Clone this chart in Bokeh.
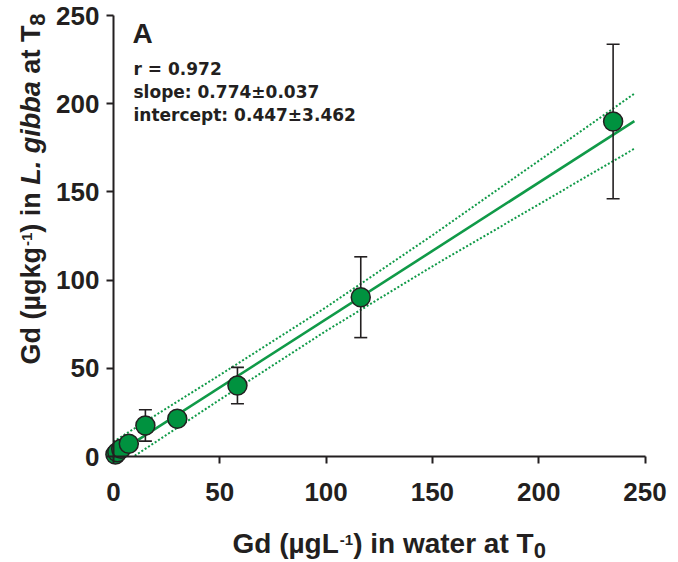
import math
from bokeh.plotting import figure
from bokeh.models import Range1d, LinearAxis, FixedTicker, Label
from bokeh.embed import file_html
from bokeh.resources import INLINE

# Gd in water at T0 (ug/L) vs Gd accumulated in L. gibba at T8 (ug/kg)
gd_water = [0.9, 1.8, 3.6, 7.2, 15.0, 30.0, 58.3, 116.3, 235.0]
gd_plant = [1.1, 2.4, 4.4, 7.2, 17.6, 21.4, 40.2, 90.3, 189.9]
gd_plant_sd = [0.4, 0.6, 1.0, 2.0, 8.9, 3.0, 10.3, 22.9, 43.8]

# linear regression summary
fit_r = 0.972
fit_slope = 0.774
fit_slope_se = 0.037
fit_intercept = 0.447
fit_intercept_se = 3.462
fit_x = [0, 245]

# 95% confidence band of the fit
band_hi_x = [0, 10, 50, 100, 150, 200, 245]
band_hi = [8.4, 16.0, 46.2, 84.6, 125.4, 167.6, 205.7]
band_lo_x = [10, 50, 100, 150, 200, 245]
band_lo = [0.4, 32.2, 71.2, 107.8, 142.9, 174.5]

x_ticks = [0, 50, 100, 150, 200, 250]
y_ticks = [0, 50, 100, 150, 200, 250]

GREEN = "#00923f"
LINE_GREEN = "#109a48"
INK = "#231f20"
SANS = "Liberation Sans"

# the frame fills the whole canvas; axes sit at the data origin
W, H = 678, 562
X0_PX, KX = 113.0, 2.126
Y0_PX, KY = 456.0, 1.764
XS, XE = -X0_PX / KX, (W - X0_PX) / KX
YS, YE = (Y0_PX - H) / KY, Y0_PX / KY

# labels anchored on the alphabetic baseline land this far (in em) below it
BASE_FIX = 0.35


def px2x(px):
    return (px - X0_PX) / KX


def px2y(py):
    return (Y0_PX - py) / KY


p = figure(width=W, height=H, x_range=Range1d(XS, XE), y_range=Range1d(YS, YE),
           output_backend="svg", toolbar_location=None,
           x_axis_location=None, y_axis_location=None,
           min_border=0)
p.outline_line_color = None
p.grid.visible = False
p.background_fill_color = "white"
p.border_fill_color = "white"


def style_axis(ax, standoff):
    ax.axis_line_color = INK
    ax.axis_line_width = 2
    ax.major_tick_line_color = INK
    ax.major_tick_line_width = 2
    ax.major_tick_out = 7
    ax.major_tick_in = 0
    ax.minor_tick_line_color = None
    ax.major_label_text_font = SANS
    ax.major_label_text_font_style = "bold"
    ax.major_label_text_font_size = "26px"
    ax.major_label_text_color = INK
    ax.major_label_standoff = standoff


xaxis = LinearAxis(fixed_location=0, bounds=(0, 250), ticker=FixedTicker(ticks=x_ticks))
style_axis(xaxis, 19)
p.add_layout(xaxis, "below")

yaxis = LinearAxis(fixed_location=0, bounds=(0, 250), ticker=FixedTicker(ticks=y_ticks))
style_axis(yaxis, 7)
p.add_layout(yaxis, "left")

# confidence band and fitted line
p.line(band_hi_x, band_hi, line_color=LINE_GREEN, line_width=2, line_dash="2 2")
p.line(band_lo_x, band_lo, line_color=LINE_GREEN, line_width=2, line_dash="2 2")
fit_y = [fit_slope * v + fit_intercept for v in fit_x]
p.line(fit_x, fit_y, line_color=LINE_GREEN, line_width=2.6)

# error bars (mean +/- SD)
err_lo = [m - s for m, s in zip(gd_plant, gd_plant_sd)]
err_hi = [m + s for m, s in zip(gd_plant, gd_plant_sd)]
p.segment(x0=gd_water, y0=err_lo, x1=gd_water, y1=err_hi, line_color=INK, line_width=1.6)
p.scatter(gd_water, err_lo, marker="dash", size=13, line_color=INK, line_width=1.6)
p.scatter(gd_water, err_hi, marker="dash", size=13, line_color=INK, line_width=1.6)

# measured means
p.scatter(gd_water, gd_plant, size=19, fill_color=GREEN, line_color=INK, line_width=1.5)

# approximate advance widths (em) for bold sans text
BOLD_W = {' ': .278, '(': .333, ')': .333, '-': .333, '.': .278, ':': .333,
          'µ': .611, 'G': .778, 'L': .611, 'T': .611, 'a': .556, 'b': .611,
          'd': .611, 'e': .556, 'g': .611, 'i': .278, 'k': .556, 'n': .611,
          'r': .389, 't': .333, 'w': .778}


def text_w(s, size):
    return sum(BOLD_W.get(c, .556) for c in s) * size


def put(text, x_px, y_px, size, style="bold", font=SANS, angle=0.0):
    p.add_layout(Label(x=px2x(x_px), y=px2y(y_px), text=text, angle=angle,
                       text_font=font, text_font_size=f"{size}px",
                       text_font_style=style, text_color=INK,
                       text_align="left", text_baseline="alphabetic"))


def rich_h(pieces, left_px, base_px):
    # text read left-to-right; pieces are (text, size, raise px, style)
    x = left_px
    for txt, size, rise, style in pieces:
        body = txt.lstrip(" ")
        x += text_w(txt[:len(txt) - len(body)], size)
        put(body, x, base_px - rise - BASE_FIX * size, size, style)
        x += text_w(body, size)


def rich_v(pieces, base_px, start_px):
    # text read bottom-to-top; glyph tops point to the left
    y = start_px
    for txt, size, rise, style in pieces:
        body = txt.lstrip(" ")
        y -= text_w(txt[:len(txt) - len(body)], size)
        put(body, base_px - rise - BASE_FIX * size, y, size, style, angle=math.pi / 2)
        y -= text_w(body, size)


# axis titles
rich_h([("Gd (µgL", 28, 0, "bold"), ("-1", 15, 8, "bold"),
        (") in water at T", 28, 0, "bold"), ("0", 22, -5, "bold")], 232, 553)
rich_v([("Gd (µgkg", 27, 0, "bold"), ("-1", 15, 8, "bold"),
        (") in ", 27, 0, "bold"), ("L. gibba", 27, 0, "bold italic"),
        (" at T", 27, 0, "bold"), ("8", 22, -5, "bold")], 40, 364)

# panel letter and regression statistics
put("A", 132, 43 - BASE_FIX * 28, 28)
stats = [f"r = {fit_r:.3f}",
         f"slope: {fit_slope:.3f}±{fit_slope_se:.3f}",
         f"intercept: {fit_intercept:.3f}±{fit_intercept_se:.3f}"]
for i, line in enumerate(stats):
    put(line, 133, 74 + 23.3 * i - BASE_FIX * 17, 17, font="DejaVu Sans")

open("out.html", "w").write(file_html(p, INLINE))
